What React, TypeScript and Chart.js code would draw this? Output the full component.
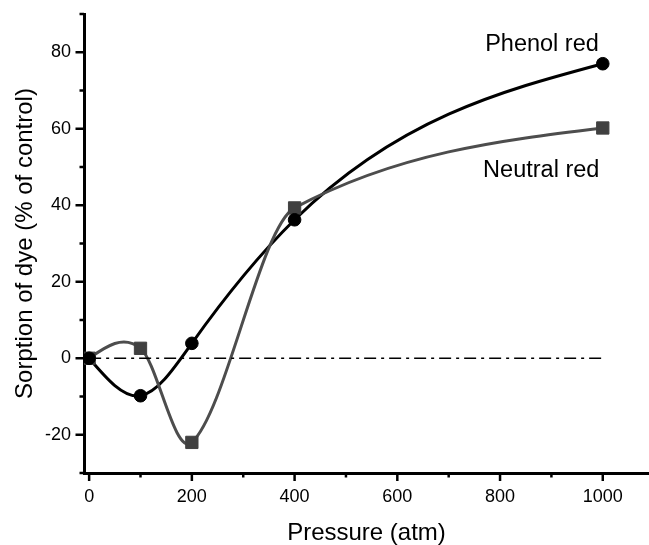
import React, { useEffect, useRef } from 'react';
import { Chart, registerables } from 'chart.js';

Chart.register(...registerables);

// ---- data ----
const pressure = [0, 100, 200, 400, 1000];
const phenolRed = [0, -9.8, 3.9, 36.2, 77];
const neutralRed = [0, 2.6, -22, 39.3, 60.2];
const refLineX = [0, 1000];
const refLineY = [0, 0];
const xMajorTicks = [0, 200, 400, 600, 800, 1000];
const xMinorTicks = [100, 300, 500, 700, 900];
const yMajorTicks = [-20, 0, 20, 40, 60, 80];
const yMinorTicks = [-30, -10, 10, 30, 50, 70, 90];
const seriesNames = ['Phenol red', 'Neutral red'];

const FONT = '"Liberation Sans", Arial, Helvetica, sans-serif';

// natural cubic spline: tangents at the knots
function naturalTangents(xs: number[], ys: number[]): number[] {
  const n = xs.length;
  const h: number[] = [];
  const d: number[] = [];
  for (let i = 0; i < n - 1; i++) {
    h[i] = xs[i + 1] - xs[i];
    d[i] = (ys[i + 1] - ys[i]) / h[i];
  }
  const M = new Array(n).fill(0);
  const a: number[] = [], b: number[] = [], c: number[] = [], r: number[] = [];
  for (let i = 1; i < n - 1; i++) {
    a.push(h[i - 1]);
    b.push(2 * (h[i - 1] + h[i]));
    c.push(h[i]);
    r.push(6 * (d[i] - d[i - 1]));
  }
  const m = b.length;
  for (let i = 1; i < m; i++) {
    const w = a[i] / b[i - 1];
    b[i] -= w * c[i - 1];
    r[i] -= w * r[i - 1];
  }
  const sol = new Array(m).fill(0);
  for (let i = m - 1; i >= 0; i--) {
    sol[i] = (r[i] - (i < m - 1 ? c[i] * sol[i + 1] : 0)) / b[i];
  }
  for (let i = 1; i < n - 1; i++) M[i] = sol[i - 1];
  const t: number[] = [];
  for (let i = 0; i < n - 1; i++) t[i] = d[i] - (h[i] * (2 * M[i] + M[i + 1])) / 6;
  t[n - 1] = d[n - 2] + (h[n - 2] * (M[n - 2] + 2 * M[n - 1])) / 6;
  return t;
}

// Hermite tangents: weighted harmonic mean on monotone stretches,
// Catmull-Rom secant at local extrema, natural-style ends
function hermiteTangents(xs: number[], ys: number[]): number[] {
  const n = xs.length;
  const h: number[] = [];
  const d: number[] = [];
  for (let i = 0; i < n - 1; i++) {
    h[i] = xs[i + 1] - xs[i];
    d[i] = (ys[i + 1] - ys[i]) / h[i];
  }
  const t = new Array(n).fill(0);
  for (let i = 1; i < n - 1; i++) {
    if (d[i - 1] * d[i] <= 0) {
      t[i] = (ys[i + 1] - ys[i - 1]) / (xs[i + 1] - xs[i - 1]);
    } else {
      const w1 = 2 * h[i] + h[i - 1];
      const w2 = h[i] + 2 * h[i - 1];
      t[i] = (w1 + w2) / (w1 / d[i - 1] + w2 / d[i]);
    }
  }
  t[0] = (3 * d[0] - t[1]) / 2;
  t[n - 1] = (3 * d[n - 2] - t[n - 2]) / 2;
  return t;
}

const smoothCurvePlugin = {
  id: 'smoothCurve',
  beforeDatasetsDraw(chart: any) {
    const { ctx, scales, chartArea } = chart;
    const sx = scales.x;
    const sy = scales.y;
    ctx.save();
    ctx.beginPath();
    ctx.rect(chartArea.left, chartArea.top, chartArea.right - chartArea.left, chartArea.bottom - chartArea.top);
    ctx.clip();
    chart.data.datasets.forEach((ds: any) => {
      if (!ds.curveMethod) return;
      const xs = ds.data.map((p: any) => p.x);
      const ys = ds.data.map((p: any) => p.y);
      const t = ds.curveMethod === 'natural' ? naturalTangents(xs, ys) : hermiteTangents(xs, ys);
      ctx.beginPath();
      ctx.moveTo(sx.getPixelForValue(xs[0]), sy.getPixelForValue(ys[0]));
      for (let i = 0; i < xs.length - 1; i++) {
        const h = xs[i + 1] - xs[i];
        ctx.bezierCurveTo(
          sx.getPixelForValue(xs[i] + h / 3),
          sy.getPixelForValue(ys[i] + (t[i] * h) / 3),
          sx.getPixelForValue(xs[i + 1] - h / 3),
          sy.getPixelForValue(ys[i + 1] - (t[i + 1] * h) / 3),
          sx.getPixelForValue(xs[i + 1]),
          sy.getPixelForValue(ys[i + 1])
        );
      }
      ctx.strokeStyle = ds.curveColor;
      ctx.lineWidth = ds.curveWidth;
      ctx.lineJoin = 'round';
      ctx.stroke();
    });
    ctx.restore();
  },
};

const axisTicksPlugin = {
  id: 'axisTicks',
  afterDraw(chart: any) {
    const { ctx, chartArea, scales } = chart;
    const x = scales.x;
    const y = scales.y;
    ctx.save();
    ctx.strokeStyle = '#000';
    ctx.lineWidth = 2.5;
    ctx.lineCap = 'butt';
    const vLine = (v: number, len: number) => {
      const px = x.getPixelForValue(v);
      ctx.beginPath();
      ctx.moveTo(px, chartArea.bottom);
      ctx.lineTo(px, chartArea.bottom + len);
      ctx.stroke();
    };
    const hLine = (v: number, len: number) => {
      const py = y.getPixelForValue(v);
      ctx.beginPath();
      ctx.moveTo(chartArea.left, py);
      ctx.lineTo(chartArea.left - len, py);
      ctx.stroke();
    };
    xMajorTicks.forEach((v) => vLine(v, 8));
    xMinorTicks.forEach((v) => vLine(v, 4.5));
    yMajorTicks.forEach((v) => hLine(v, 8.5));
    yMinorTicks.forEach((v) => hLine(v, 4.5));
    ctx.restore();
  },
};

const seriesLabelPlugin = {
  id: 'seriesLabels',
  afterDatasetsDraw(chart: any, _args: any, opts: any) {
    const { ctx, scales } = chart;
    ctx.save();
    ctx.fillStyle = '#000';
    ctx.font = `${opts.size}px ${FONT}`;
    ctx.textAlign = 'left';
    ctx.textBaseline = 'alphabetic';
    (opts.items || []).forEach((it: any) => {
      ctx.fillText(it.text, scales.x.getPixelForValue(it.x), scales.y.getPixelForValue(it.y));
    });
    ctx.restore();
  },
};

export default function App() {
  const canvasRef = useRef<HTMLCanvasElement | null>(null);

  useEffect(() => {
    if (!canvasRef.current) return;
    const chart = new Chart(canvasRef.current, {
      type: 'line',
      data: {
        datasets: [
          {
            label: seriesNames[0],
            data: pressure.map((p, i) => ({ x: p, y: phenolRed[i] })),
            showLine: false,
            curveMethod: 'natural',
            curveColor: '#000',
            curveWidth: 3,
            borderColor: '#000',
            backgroundColor: '#000',
            pointStyle: 'circle',
            pointRadius: 6.3,
            pointBackgroundColor: '#000',
            pointBorderColor: '#000',
            pointBorderWidth: 1,
            order: 1,
          },
          {
            label: seriesNames[1],
            data: pressure.map((p, i) => ({ x: p, y: neutralRed[i] })),
            showLine: false,
            curveMethod: 'hermite',
            curveColor: '#4d4d4d',
            curveWidth: 3,
            borderColor: '#404040',
            backgroundColor: '#404040',
            pointStyle: 'rect',
            pointRadius: 8.7,
            pointBackgroundColor: '#404040',
            pointBorderColor: '#404040',
            pointBorderWidth: 1,
            order: 2,
          },
          {
            label: 'zero',
            data: refLineX.map((v, i) => ({ x: v, y: refLineY[i] })),
            borderColor: '#000',
            borderWidth: 1.5,
            borderDash: [12, 5, 3, 5],
            pointRadius: 0,
            tension: 0,
            order: 3,
          },
        ],
      },
      options: {
        responsive: false,
        animation: false,
        devicePixelRatio: 1,
        layout: { autoPadding: false, padding: { top: 14, right: 0, left: 0, bottom: 0 } },
        plugins: {
          legend: { display: false },
          tooltip: { enabled: false },
          seriesLabels: {
            size: 23.5,
            items: [
              { text: seriesNames[0], x: 771, y: 80.3 },
              { text: seriesNames[1], x: 767, y: 47.4 },
            ],
          },
        } as any,
        scales: {
          x: {
            type: 'linear',
            min: -10,
            max: 1090,
            afterBuildTicks: (s: any) => {
              s.ticks = xMajorTicks.map((v) => ({ value: v }));
            },
            afterFit: (s: any) => {
              s.height = 72;
              s.paddingLeft = 0;
              s.paddingRight = 0;
            },
            grid: { display: false, drawTicks: false },
            border: { display: true, width: 3, color: '#000' },
            ticks: {
              callback: (v: any) => String(v),
              font: { size: 18, family: FONT },
              color: '#000',
              padding: 13,
              maxRotation: 0,
              autoSkip: false,
            },
            title: {
              display: true,
              text: 'Pressure (atm)',
              color: '#000',
              font: { size: 24, family: FONT, lineHeight: 1 },
              padding: { top: 0, bottom: 0 },
            },
          },
          y: {
            type: 'linear',
            min: -30,
            max: 90,
            afterBuildTicks: (s: any) => {
              s.ticks = yMajorTicks.map((v) => ({ value: v }));
            },
            afterFit: (s: any) => {
              s.width = 84;
              s.paddingTop = 0;
              s.paddingBottom = 0;
            },
            grid: { display: false, drawTicks: false },
            border: { display: true, width: 3, color: '#000' },
            ticks: {
              callback: (v: any) => String(v),
              font: { size: 18, family: FONT },
              color: '#000',
              padding: 13,
              autoSkip: false,
            },
            title: {
              display: true,
              text: 'Sorption of dye (% of control)',
              color: '#000',
              font: { size: 24, family: FONT, lineHeight: 1 },
              padding: { top: 13, bottom: 0 },
            },
          },
        },
      },
      plugins: [smoothCurvePlugin, axisTicksPlugin, seriesLabelPlugin],
    } as any);
    return () => chart.destroy();
  }, []);

  return (
    <div style={{ position: 'fixed', left: 0, top: 0, width: 649, height: 545, background: '#fff' }}>
      <canvas ref={canvasRef} width={649} height={545} style={{ display: 'block' }} />
    </div>
  );
}
